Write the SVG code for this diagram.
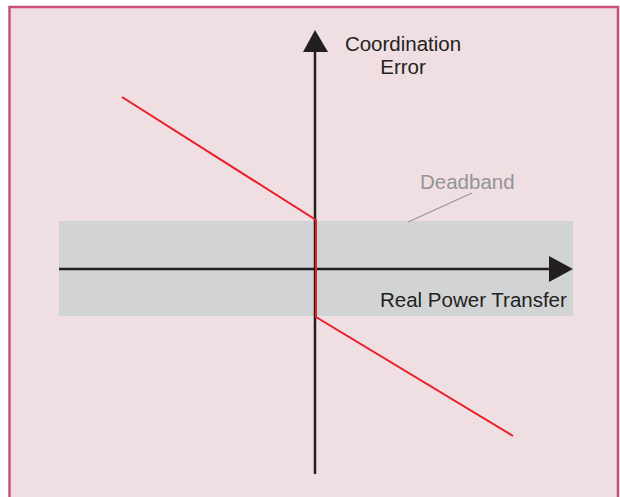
<svg xmlns="http://www.w3.org/2000/svg" width="620" height="497" viewBox="0 0 620 497">
  <style>
    .label { font-family: "Liberation Sans", Arial, sans-serif; font-size: 20.5px; fill: #231f20; }
    .muted { fill: #939598; }
    .axis { stroke: #231f20; stroke-width: 2.5; fill: none; }
    .curve { stroke: #ed1c24; stroke-width: 2; fill: none; stroke-linejoin: miter; }
  </style>
  <rect width="620" height="497" fill="#ffffff"/>
  <!-- frame -->
  <rect id="frame" x="9.5" y="7" width="608.5" height="500" fill="#efdee2" stroke="#c9507c" stroke-width="2.5"/>

  <!-- deadband region -->
  <g id="deadband">
    <rect x="59" y="221" width="514" height="95" fill="#d1d3d4"/>
    <text class="label muted" x="420" y="189">Deadband</text>
  </g>

  <g id="connectors">
    <line x1="472" y1="193" x2="408" y2="222" stroke="#939598" stroke-width="1.2"/>
    <!-- vertical axis -->
    <line class="axis" x1="315" y1="50" x2="315" y2="474"/>
    <polygon points="315,30 303,52 328,52" fill="#231f20"/>
    <!-- horizontal axis -->
    <line class="axis" x1="59" y1="269" x2="552" y2="269"/>
    <polygon points="573,269 549,256 549,282" fill="#231f20"/>
    <!-- characteristic -->
    <polyline class="curve" points="122,97 316,220 316,317 513,436"/>
  </g>

  <g id="y-label">
    <text class="label" x="403" y="51" text-anchor="middle">Coordination</text>
    <text class="label" x="403" y="74" text-anchor="middle">Error</text>
  </g>
  <g id="x-label">
    <text class="label" x="380" y="307">Real Power Transfer</text>
  </g>
</svg>
